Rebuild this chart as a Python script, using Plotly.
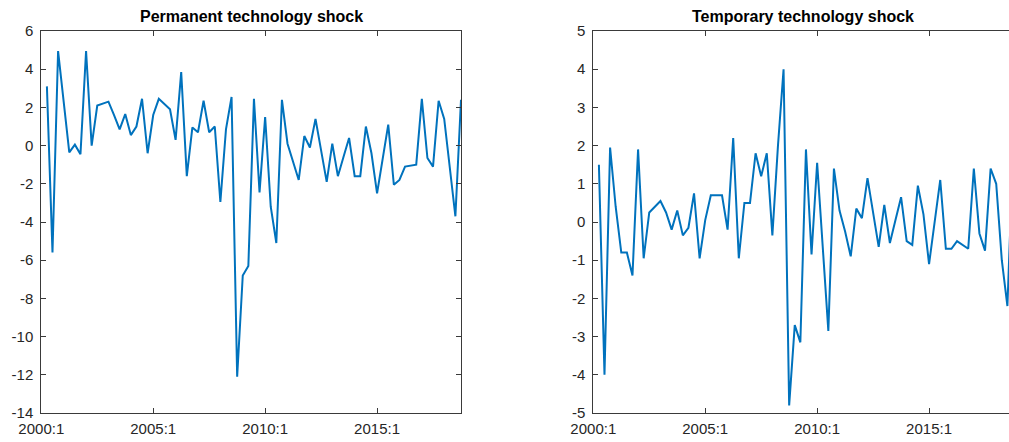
import plotly.graph_objects as go

# Quarterly shock series, 2000:2 .. 2018:4 (quarter index 1..75, 0 = 2000:1)
quarters = list(range(1, 76))

permanent = [
    3.1, -5.6, 4.95, 2.3, -0.35, 0.05, -0.45, 4.95, 0.0, 2.1,
    2.2, 2.3, 1.6, 0.85, 1.65, 0.55, 1.0, 2.45, -0.4, 1.6,
    2.45, 2.2, 1.9, 0.3, 3.85, -1.6, 0.95, 0.7, 2.35, 0.7,
    1.0, -2.95, 0.85, 2.55, -12.1, -6.8, -6.3, 2.45, -2.45, 1.5,
    -3.2, -5.1, 2.4, 0.1, -0.85, -1.8, 0.5, -0.1, 1.4, -0.25,
    -1.9, 0.1, -1.6, -0.6, 0.4, -1.6, -1.6, 1.0, -0.4, -2.5,
    -0.7, 1.1, -2.05, -1.8, -1.1, -1.05, -1.0, 2.45, -0.65, -1.1,
    2.35, 1.4, -1.3, -3.7, 2.4,
]

temporary = [
    1.5, -4.0, 1.95, 0.4, -0.8, -0.8, -1.4, 1.9, -0.95, 0.25,
    0.4, 0.55, 0.25, -0.2, 0.3, -0.35, -0.15, 0.75, -0.95, 0.05,
    0.7, 0.7, 0.7, -0.2, 2.2, -0.95, 0.5, 0.5, 1.8, 1.2,
    1.8, -0.35, 2.0, 4.0, -4.8, -2.7, -3.15, 1.9, -0.85, 1.55,
    -0.6, -2.85, 1.4, 0.3, -0.25, -0.9, 0.35, 0.1, 1.15, 0.2,
    -0.65, 0.45, -0.55, 0.05, 0.65, -0.5, -0.6, 0.95, 0.2, -1.1,
    0.0, 1.1, -0.7, -0.7, -0.5, -0.6, -0.7, 1.4, -0.3, -0.75,
    1.4, 1.0, -1.0, -2.2, 1.8,
]

tick_pos = [0, 20, 40, 60]
tick_text = ["2000:1", "2005:1", "2010:1", "2015:1"]

perm_yticks = list(range(-14, 7, 2))
temp_yticks = list(range(-5, 6, 1))

titles = ["Permanent technology shock", "Temporary technology shock"]

LINE = "#0072BD"
AXC = "#3a3a3a"
FONT = "Liberation Sans, Arial, sans-serif"

fig = go.Figure()
fig.add_trace(go.Scatter(x=quarters, y=permanent, mode="lines",
                         line=dict(color=LINE, width=2), xaxis="x", yaxis="y",
                         showlegend=False, hoverinfo="skip"))
fig.add_trace(go.Scatter(x=quarters, y=temporary, mode="lines",
                         line=dict(color=LINE, width=2), xaxis="x2", yaxis="y2",
                         showlegend=False, hoverinfo="skip"))

W, H = 1009, 442
ml, mr, mt, mb = 41, 0, 31, 29
pw = W - ml - mr
ph = H - mt - mb

left_x0, left_x1 = 41.3, 461.0
right_x0 = 593.3
px_per_q = (left_x1 - left_x0) / 75.0
right_end = (W - right_x0) / px_per_q

axis_common = dict(
    showline=True, linecolor=AXC, linewidth=1,
    ticks="inside", ticklen=5, tickwidth=1, tickcolor=AXC,
    showgrid=False, zeroline=False,
    tickfont=dict(family=FONT, size=15, color="#262626"),
)


def hyphen_labels(vals):
    # plain ASCII hyphen for negative numbers
    return [str(v) for v in vals]


fig.update_layout(
    width=W, height=H,
    margin=dict(l=ml, r=mr, t=mt, b=mb, pad=0),
    paper_bgcolor="white", plot_bgcolor="white",
    xaxis=dict(domain=[(left_x0 - ml) / pw, (left_x1 - ml) / pw],
               range=[0, 75], tickvals=tick_pos, ticktext=tick_text,
               mirror="ticks", anchor="y", ticklabelstandoff=2, **axis_common),
    yaxis=dict(domain=[0, 1], range=[-14, 6],
               tickvals=perm_yticks, ticktext=hyphen_labels(perm_yticks),
               mirror="ticks", anchor="x", ticklabelstandoff=4, **axis_common),
    xaxis2=dict(domain=[(right_x0 - ml) / pw, 1.0],
                range=[0, right_end], tickvals=tick_pos, ticktext=tick_text,
                mirror="ticks", anchor="y2", ticklabelstandoff=2, **axis_common),
    yaxis2=dict(domain=[0, 1], range=[-5, 5],
                tickvals=temp_yticks, ticktext=hyphen_labels(temp_yticks),
                mirror=False, anchor="x2", ticklabelstandoff=4, **axis_common),
)

# Subplot titles centred over each axes box
box_w = left_x1 - left_x0
centers = [(left_x0 + box_w / 2 - ml) / pw,
           (right_x0 + box_w / 2 - ml) / pw]
for txt, cx in zip(titles, centers):
    fig.add_annotation(text=txt, x=cx, y=1 + (mt - 16) / ph,
                       xref="paper", yref="paper", xanchor="center",
                       yanchor="middle", showarrow=False,
                       font=dict(family=FONT, size=16, color="black", weight="bold"))

fig.write_html("out.html")
